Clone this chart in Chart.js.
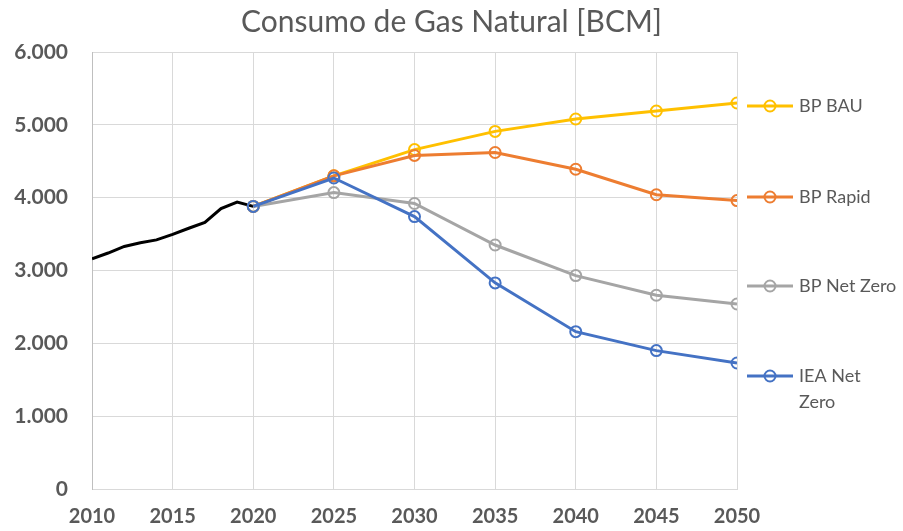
<!DOCTYPE html>
<html>
<head>
<meta charset="utf-8">
<title>Consumo de Gas Natural</title>
<script src="https://cdn.jsdelivr.net/npm/chart.js@4.4.1/dist/chart.umd.min.js"></script>
<style>
    body { margin: 0; background: #ffffff; }
    #chart { display: block; }
</style>
</head>
<body>
<canvas id="chart" width="903" height="531"></canvas>
<script>
// historical consumption, one value per year
const histYears = [2010, 2011, 2012, 2013, 2014, 2015, 2016, 2017, 2018, 2019, 2020];
const histValues = [3160, 3240, 3330, 3380, 3420, 3495, 3580, 3660, 3850, 3940, 3880];

// scenarios, every 5 years
const scenYears = [2020, 2025, 2030, 2035, 2040, 2045, 2050];
const bpBau = [3880, 4300, 4660, 4910, 5080, 5190, 5300];
const bpRapid = [3880, 4300, 4580, 4620, 4390, 4040, 3960];
const bpNetZero = [3880, 4070, 3920, 3350, 2930, 2660, 2540];
const ieaNetZero = [3880, 4270, 3740, 2830, 2160, 1900, 1730];

const seriesNames = ['BP BAU', 'BP Rapid', 'BP Net Zero', ['IEA Net', 'Zero']];
const yTicks = [0, 1000, 2000, 3000, 4000, 5000, 6000];

const textColor = '#595959';
const gridColor = '#d9d9d9';

function toPoints(xs, ys) {
    return xs.map((x, i) => ({ x: x, y: ys[i] }));
}

function scenario(label, values, color, order) {
    return {
        label: label,
        data: toPoints(scenYears, values),
        borderColor: color,
        backgroundColor: color,
        borderWidth: 3,
        pointRadius: 5.5,
        pointBorderWidth: 2,
        pointBorderColor: color,
        pointBackgroundColor: 'rgba(0,0,0,0)',
        tension: 0,
        order: order
    };
}

// legend drawn at the right, like the Excel original
const sideLegend = {
    id: 'sideLegend',
    afterDraw(chart) {
        const ctx = chart.ctx;
        const rows = [106, 197, 286, 376];
        ctx.save();
        ctx.font = '18px Lato';
        ctx.textBaseline = 'middle';
        ctx.textAlign = 'left';
        for (let i = 0; i < 4; i++) {
            const ds = chart.data.datasets[i + 1];
            const y = rows[i];
            ctx.strokeStyle = ds.borderColor;
            ctx.lineWidth = 3;
            ctx.beginPath();
            ctx.moveTo(747, y);
            ctx.lineTo(793, y);
            ctx.stroke();
            ctx.lineWidth = 2;
            ctx.beginPath();
            ctx.arc(770, y, 5.5, 0, Math.PI * 2);
            ctx.stroke();
            ctx.fillStyle = textColor;
            const name = seriesNames[i];
            const lines = Array.isArray(name) ? name : [name];
            lines.forEach((t, j) => ctx.fillText(t, 799, y + j * 26));
        }
        ctx.restore();
    }
};

new Chart(document.getElementById('chart'), {
    type: 'line',
    data: {
        datasets: [
            {
                label: 'Histórico',
                data: toPoints(histYears, histValues),
                borderColor: '#000000',
                borderWidth: 3,
                pointRadius: 0,
                tension: 0,
                order: 5
            },
            scenario('BP BAU', bpBau, '#ffc000', 4),
            scenario('BP Rapid', bpRapid, '#ed7d31', 3),
            scenario('BP Net Zero', bpNetZero, '#a5a5a5', 2),
            scenario('IEA Net Zero', ieaNetZero, '#4472c4', 1)
        ]
    },
    options: {
        responsive: false,
        animation: false,
        plugins: {
            legend: { display: false },
            tooltip: { enabled: false },
            title: {
                display: true,
                text: 'Consumo de Gas Natural [BCM]',
                color: textColor,
                font: { family: 'Lato', size: 30, weight: 'normal', lineHeight: 1.2 },
                padding: { top: 4, bottom: 12 }
            }
        },
        scales: {
            x: {
                type: 'linear',
                min: 2010,
                max: 2050,
                ticks: {
                    stepSize: 5,
                    color: textColor,
                    padding: 16,
                    font: { family: 'Lato', size: 20, weight: 'bold' },
                    callback: v => String(v)
                },
                grid: { color: gridColor, drawTicks: false },
                border: { color: gridColor },
                afterFit(scale) { scale.height = 42; }
            },
            y: {
                min: 0,
                max: 6000,
                afterBuildTicks(scale) {
                    scale.ticks = yTicks.map(v => ({ value: v }));
                },
                ticks: {
                    color: textColor,
                    padding: 24,
                    font: { family: 'Lato', size: 21, weight: 'bold' },
                    callback: v => v.toLocaleString('de-DE')
                },
                grid: { color: gridColor, drawTicks: false },
                border: { color: '#bfbfbf' },
                afterFit(scale) { scale.width = 92; }
            },
            // empty right-hand box that leaves room for the legend
            side: {
                position: 'right',
                min: 0,
                max: 6000,
                ticks: { display: false },
                grid: { display: false, drawTicks: false },
                border: { display: false },
                afterFit(scale) { scale.width = 166; }
            }
        }
    },
    plugins: [sideLegend]
});
</script>
</body>
</html>
